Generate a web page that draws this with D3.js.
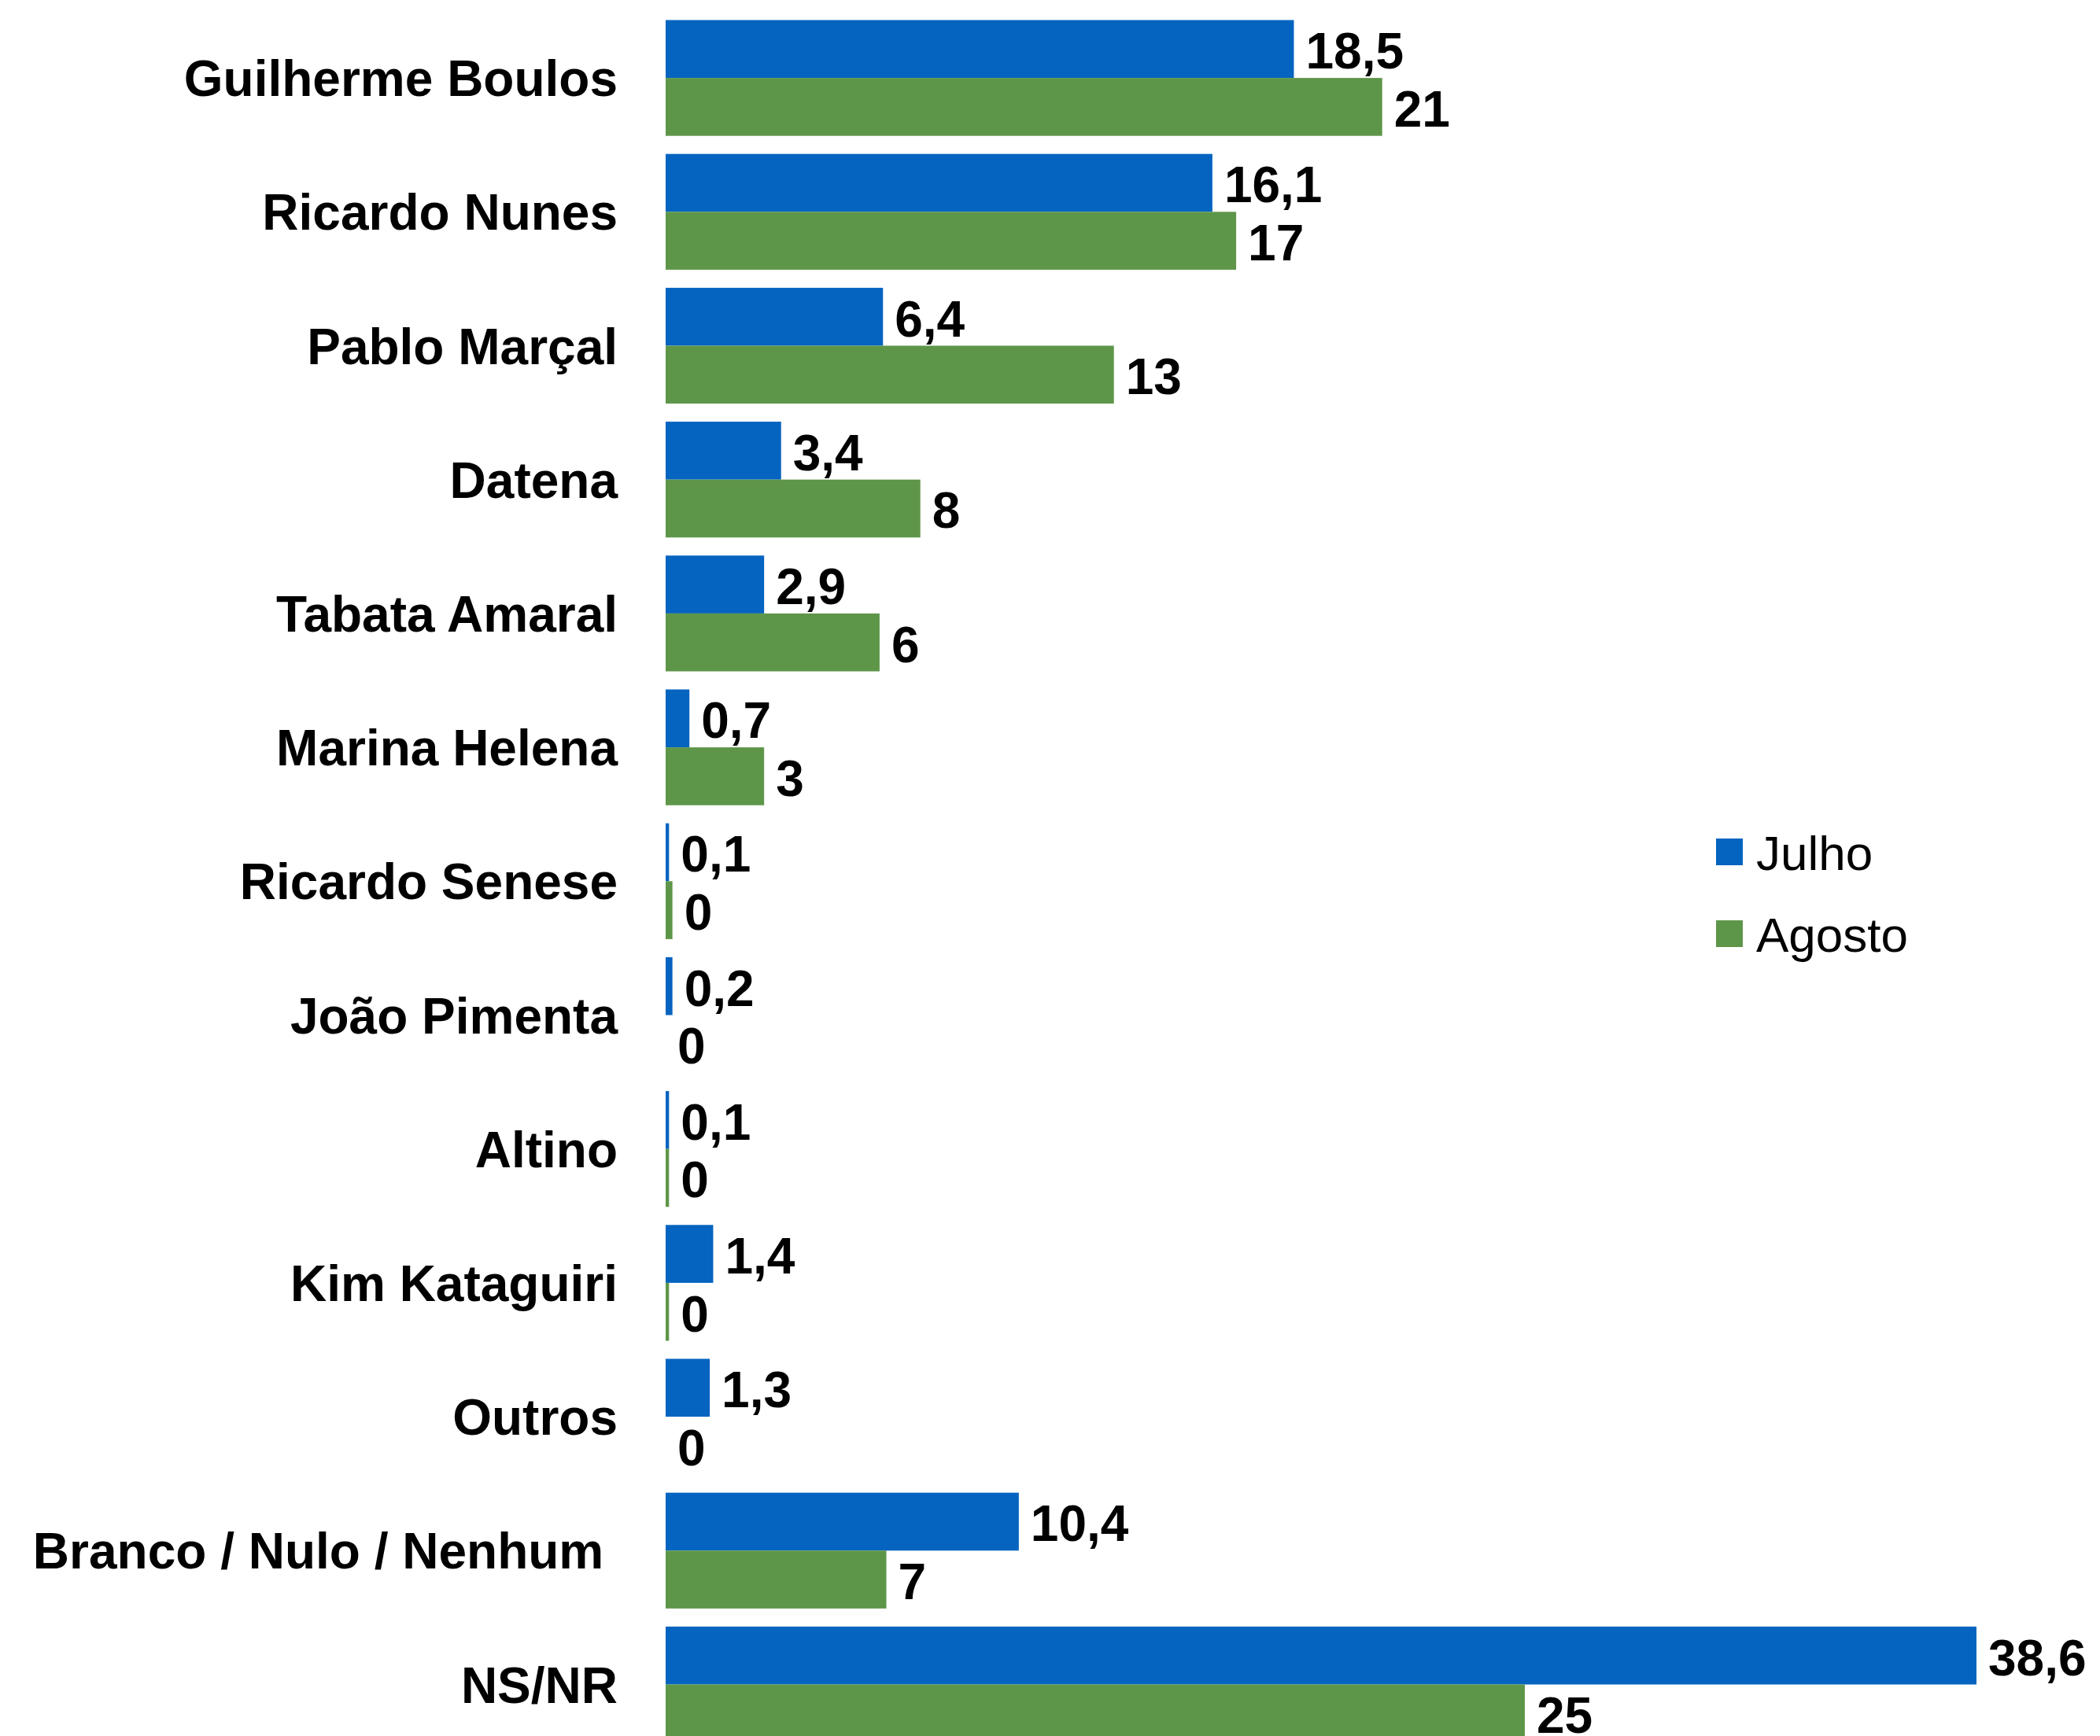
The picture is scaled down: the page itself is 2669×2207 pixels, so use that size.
<!DOCTYPE html>
<html>
<head>
<meta charset="utf-8">
<script src="https://cdn.jsdelivr.net/npm/d3@7"></script>
<style>
  body { margin: 0; background: #fff; }
  svg { display: block; }
  .cat text { font-family: "Liberation Sans", Arial, sans-serif; font-weight: bold; font-size: 64px; fill: #000; white-space: pre; }
  .val { font-family: "Liberation Sans", Arial, sans-serif; font-weight: bold; font-size: 64px; fill: #000; }
  .leg { font-family: "Liberation Sans", Arial, sans-serif; font-size: 62px; fill: #000; }
</style>
</head>
<body>
<div id="chart"></div>
<script>
var categories = ["Guilherme Boulos", "Ricardo Nunes", "Pablo Marçal", "Datena", "Tabata Amaral",
  "Marina Helena", "Ricardo Senese", "João Pimenta", "Altino", "Kim Kataguiri", "Outros",
  "Branco / Nulo / Nenhum ", "NS/NR"]
var julho = [18.5, 16.1, 6.4, 3.4, 2.9, 0.7, 0.1, 0.2, 0.1, 1.4, 1.3, 10.4, 38.6]
var agosto = [21.1, 16.8, 13.2, 7.5, 6.3, 2.9, 0.2, 0, 0.1, 0.1, 0, 6.5, 25.3]
var seriesNames = ["Julho", "Agosto"]
var colors = ["#0564C0", "#5E9649"]

var W = 2669, H = 2207
var left = 846

var svg = d3.select("#chart").append("svg")
  .attr("width", W)
  .attr("height", H)

// scales
var x = d3.scaleLinear().domain([0, 40]).range([left, left + 40 * 43.16])
var y = d3.scaleBand().domain(categories).range([14, 14 + 13 * 170.2])
  .paddingInner(0.135).paddingOuter(0.0675)
var ySub = d3.scaleBand().domain(seriesNames).range([0, y.bandwidth()])

// category labels
var yAxis = svg.append("g").attr("class", "cat")
  .attr("transform", "translate(" + left + ",0)")
  .call(d3.axisLeft(y).tickSize(0).tickPadding(61))
yAxis.select(".domain").remove()
yAxis.selectAll("text").attr("dy", "0.36em")

var rows = categories.map(function (c, i) {
  return { cat: c, vals: [julho[i], agosto[i]] }
})

var fmtJ = function (v) { return d3.format(".1f")(v).replace(".", ",") }
var fmtA = function (v) { return String(Math.round(v)) }

var g = svg.selectAll(".row").data(rows).enter().append("g")
  .attr("class", "row")
  .attr("transform", function (d) { return "translate(0," + y(d.cat) + ")" })

g.selectAll("rect").data(function (d) {
    return d.vals.map(function (v, k) { return { s: seriesNames[k], v: v, k: k } })
  })
  .enter().append("rect")
  .attr("x", x(0))
  .attr("y", function (d) { return ySub(d.s) })
  .attr("width", function (d) { return x(d.v) - x(0) })
  .attr("height", ySub.bandwidth())
  .attr("fill", function (d) { return colors[d.k] })

g.selectAll(".val").data(function (d) {
    return d.vals.map(function (v, k) { return { s: seriesNames[k], v: v, k: k } })
  })
  .enter().append("text")
  .attr("class", "val")
  .attr("x", function (d) { return x(d.v) + 15 })
  .attr("y", function (d) { return ySub(d.s) + ySub.bandwidth() / 2 + 25 })
  .text(function (d) { return d.k === 0 ? fmtJ(d.v) : fmtA(d.v) })

// legend
var leg = svg.append("g").attr("transform", "translate(2181,1066)")
var li = leg.selectAll("g").data(seriesNames).enter().append("g")
  .attr("transform", function (d, i) { return "translate(0," + i * 104 + ")" })
li.append("rect").attr("width", 34).attr("height", 34)
  .attr("fill", function (d, i) { return colors[i] })
li.append("text").attr("class", "leg")
  .attr("x", 51).attr("y", 40)
  .text(function (d) { return d })
</script>
</body>
</html>
